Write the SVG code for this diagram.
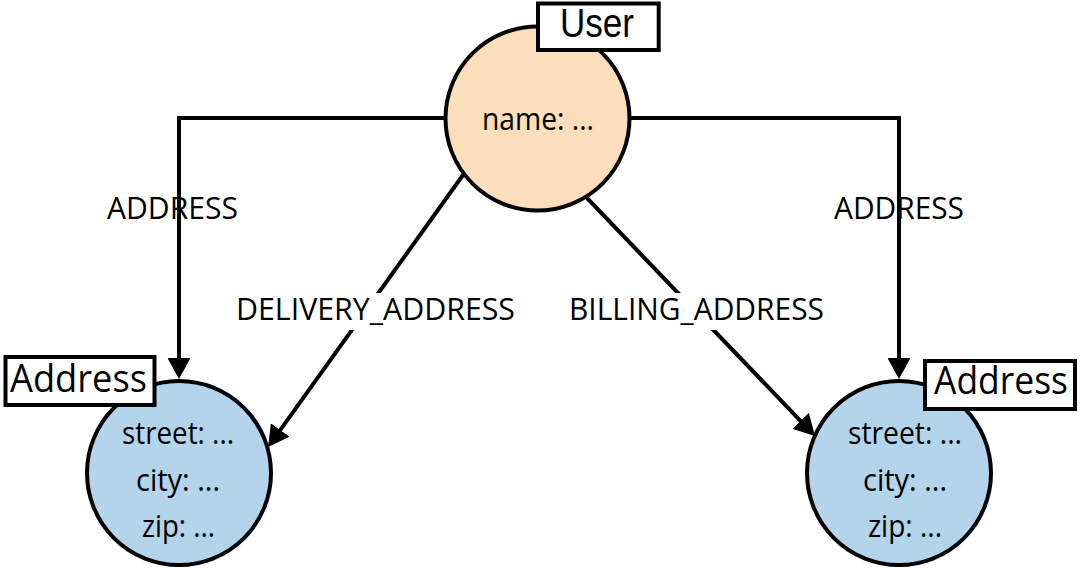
<svg xmlns="http://www.w3.org/2000/svg" width="1081" height="568" viewBox="0 0 1081 568">
<style>
text{font-family:"Open Sans","Liberation Sans",sans-serif;fill:#000}
.t{font-size:31px}
.lbl{font-size:38px}
.edge{fill:none;stroke:#000;stroke-width:4}
.user{fill:#FCDEBB;stroke:#000;stroke-width:4}
.addr{fill:#B3D4EA;stroke:#000;stroke-width:4}
.box{fill:#fff;stroke:#000;stroke-width:4}
</style>
<defs>
<marker id="arr" viewBox="0 0 21 23" refX="2" refY="11.5" markerWidth="21" markerHeight="23" markerUnits="userSpaceOnUse" orient="auto">
<path d="M0,0 L21,11.5 L0,23 z" fill="#000"/>
</marker>
</defs>
<g id="connectors">
<path class="edge" d="M445,118 H179 V360" marker-end="url(#arr)"/>
<path class="edge" d="M630,118 H899 V360" marker-end="url(#arr)"/>
<path class="edge" d="M463,175 L279.1,431.6" marker-end="url(#arr)"/>
<path class="edge" d="M587,198 L801.9,422.3" marker-end="url(#arr)"/>
<text class="t" x="107" y="219" textLength="131" lengthAdjust="spacingAndGlyphs">ADDRESS</text>
<text class="t" x="834" y="219" textLength="130" lengthAdjust="spacingAndGlyphs">ADDRESS</text>
<rect x="236" y="293" width="279" height="37" fill="#fff"/>
<text class="t" x="236" y="320" textLength="279" lengthAdjust="spacingAndGlyphs">DELIVERY_ADDRESS</text>
<rect x="569" y="293" width="255" height="37" fill="#fff"/>
<text class="t" x="569" y="320" textLength="255" lengthAdjust="spacingAndGlyphs">BILLING_ADDRESS</text>
</g>
<g id="user">
<circle class="user" cx="537.5" cy="118.5" r="92"/>
<text class="t" x="482" y="130" textLength="112" lengthAdjust="spacingAndGlyphs">name: ...</text>
<rect class="box" x="538" y="3.5" width="120.7" height="46.5"/>
<text style="font-size:40px;font-family:'Liberation Sans',sans-serif" x="560" y="37" textLength="74" lengthAdjust="spacingAndGlyphs">User</text>
</g>
<g id="address-left">
<circle class="addr" cx="179" cy="473" r="92"/>
<text class="t" x="122" y="444" textLength="112" lengthAdjust="spacingAndGlyphs">street: ...</text>
<text class="t" x="136" y="491" textLength="84" lengthAdjust="spacingAndGlyphs">city: ...</text>
<text class="t" x="142" y="537" textLength="73" lengthAdjust="spacingAndGlyphs">zip: ...</text>
<rect class="box" x="5.5" y="357" width="149" height="48"/>
<text class="lbl" x="10" y="392" textLength="137" lengthAdjust="spacingAndGlyphs">Address</text>
</g>
<g id="address-right">
<circle class="addr" cx="899" cy="473" r="92"/>
<text class="t" x="848" y="444" textLength="114" lengthAdjust="spacingAndGlyphs">street: ...</text>
<text class="t" x="863" y="491" textLength="84" lengthAdjust="spacingAndGlyphs">city: ...</text>
<text class="t" x="868" y="537" textLength="74" lengthAdjust="spacingAndGlyphs">zip: ...</text>
<rect class="box" x="925" y="361" width="150" height="48"/>
<text class="lbl" x="934" y="394" textLength="134" lengthAdjust="spacingAndGlyphs">Address</text>
</g>
</svg>
